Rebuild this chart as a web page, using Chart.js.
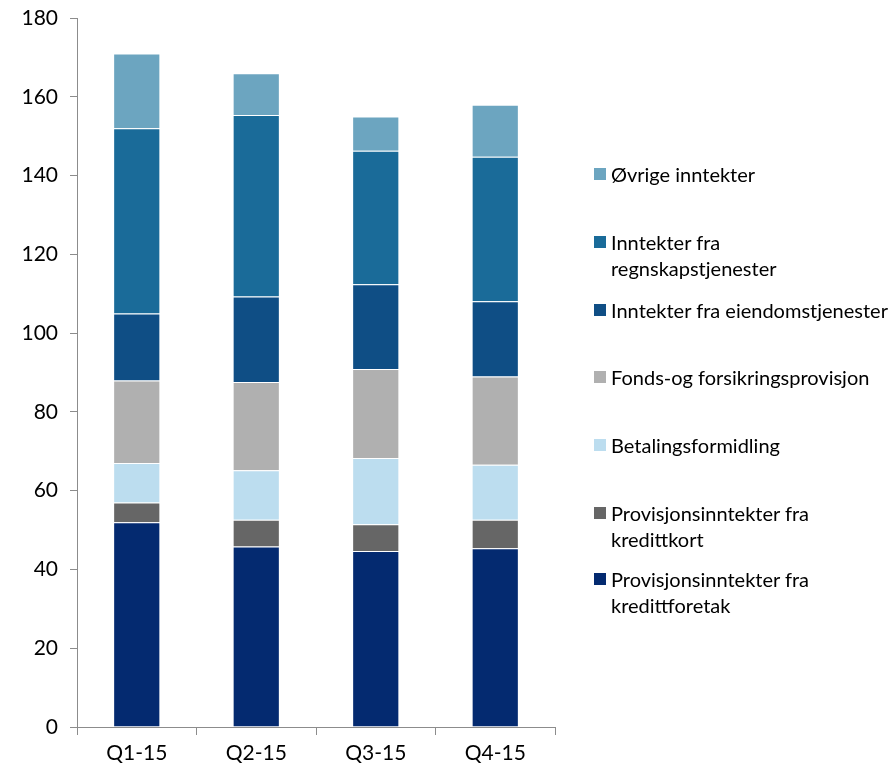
<!DOCTYPE html>
<html>
<head>
<meta charset="utf-8">
<script src="https://cdn.jsdelivr.net/npm/chart.js@4.4.0/dist/chart.umd.min.js"></script>
<style>
    html, body { margin: 0; padding: 0; background: #fff; }
    #wrap { position: relative; width: 893px; height: 772px; }
    #legend { position: absolute; left: 594px; top: 0; font-family: Lato, sans-serif; font-size: 20px; color: #000; }
    .item { position: absolute; left: 0; white-space: nowrap; line-height: 26px; }
    .box { position: absolute; left: 0; top: 7px; width: 12px; height: 12px; }
    .txt { position: absolute; left: 17px; top: 0; }
</style>
</head>
<body>
<div id="wrap">
    <canvas id="chart" width="893" height="772"></canvas>
    <div id="legend"></div>
</div>
<script>
const quarters = ['Q1-15', 'Q2-15', 'Q3-15', 'Q4-15'];

// bunn til topp i stabelen
const kredittforetak = [52, 45.8, 44.7, 45.4];
const kredittkort = [5, 6.8, 6.8, 7.2];
const betaling = [10, 12.6, 16.8, 14];
const fondsForsikring = [21, 22.4, 22.6, 22.4];
const eiendom = [17, 21.7, 21.5, 19.1];
const regnskap = [47, 46.1, 33.9, 36.7];
const ovrige = [19, 10.6, 8.7, 13.2];

const yTicks = [0, 20, 40, 60, 80, 100, 120, 140, 160, 180];

const series = [
    { label: ['Provisjonsinntekter fra', 'kredittforetak'], data: kredittforetak, color: '#042A70' },
    { label: ['Provisjonsinntekter fra', 'kredittkort'], data: kredittkort, color: '#666666' },
    { label: ['Betalingsformidling'], data: betaling, color: '#BCDDEF' },
    { label: ['Fonds-og forsikringsprovisjon'], data: fondsForsikring, color: '#B0B0B0' },
    { label: ['Inntekter fra eiendomstjenester'], data: eiendom, color: '#0F4E85' },
    { label: ['Inntekter fra', 'regnskapstjenester'], data: regnskap, color: '#1A6B99' },
    { label: ['Øvrige inntekter'], data: ovrige, color: '#6CA5C0' }
];

// legend-posisjoner (toppen av første linje), øverst = siste serie
const legendTops = [566, 500, 432, 364, 297, 229, 161];

const axisColor = '#8c8c8c';
const tickFont = { family: 'Lato', size: 21 };

new Chart(document.getElementById('chart'), {
    type: 'bar',
    data: {
        labels: quarters,
        datasets: series.map(s => ({
            label: s.label.join(' '),
            data: s.data,
            backgroundColor: s.color,
            borderColor: 'rgba(255,255,255,0.35)',
            borderWidth: 1,
            barPercentage: 0.395,
            categoryPercentage: 1
        }))
    },
    options: {
        responsive: false,
        animation: false,
        layout: { padding: { left: 0, right: 338, top: 18, bottom: 0 } },
        plugins: {
            legend: { display: false },
            tooltip: { enabled: false }
        },
        scales: {
            x: {
                stacked: true,
                grid: { drawOnChartArea: false, drawTicks: true, tickLength: 8, color: axisColor, offset: true },
                border: { color: axisColor, width: 1 },
                ticks: { color: '#000', font: tickFont, padding: 6 },
                afterFit: (scale) => { scale.height = 45; }
            },
            y: {
                stacked: true,
                min: 0,
                max: 180,
                afterBuildTicks: (scale) => { scale.ticks = yTicks.map(v => ({ value: v })); },
                grid: { drawOnChartArea: false, drawTicks: true, tickLength: 7, color: axisColor },
                border: { color: axisColor, width: 1 },
                ticks: { color: '#000', font: tickFont, padding: 12 },
                afterFit: (scale) => { scale.width = 77; scale.paddingTop = 0; }
            }
        }
    }
});

// egen legend til høyre, tekst kan gå over to linjer
const legend = document.getElementById('legend');
series.forEach((s, i) => {
    const item = document.createElement('div');
    item.className = 'item';
    item.style.top = legendTops[i] + 'px';
    item.innerHTML = `<div class="box" style="background:${s.color}"></div><div class="txt">${s.label.join('<br>')}</div>`;
    legend.appendChild(item);
});
</script>
</body>
</html>
